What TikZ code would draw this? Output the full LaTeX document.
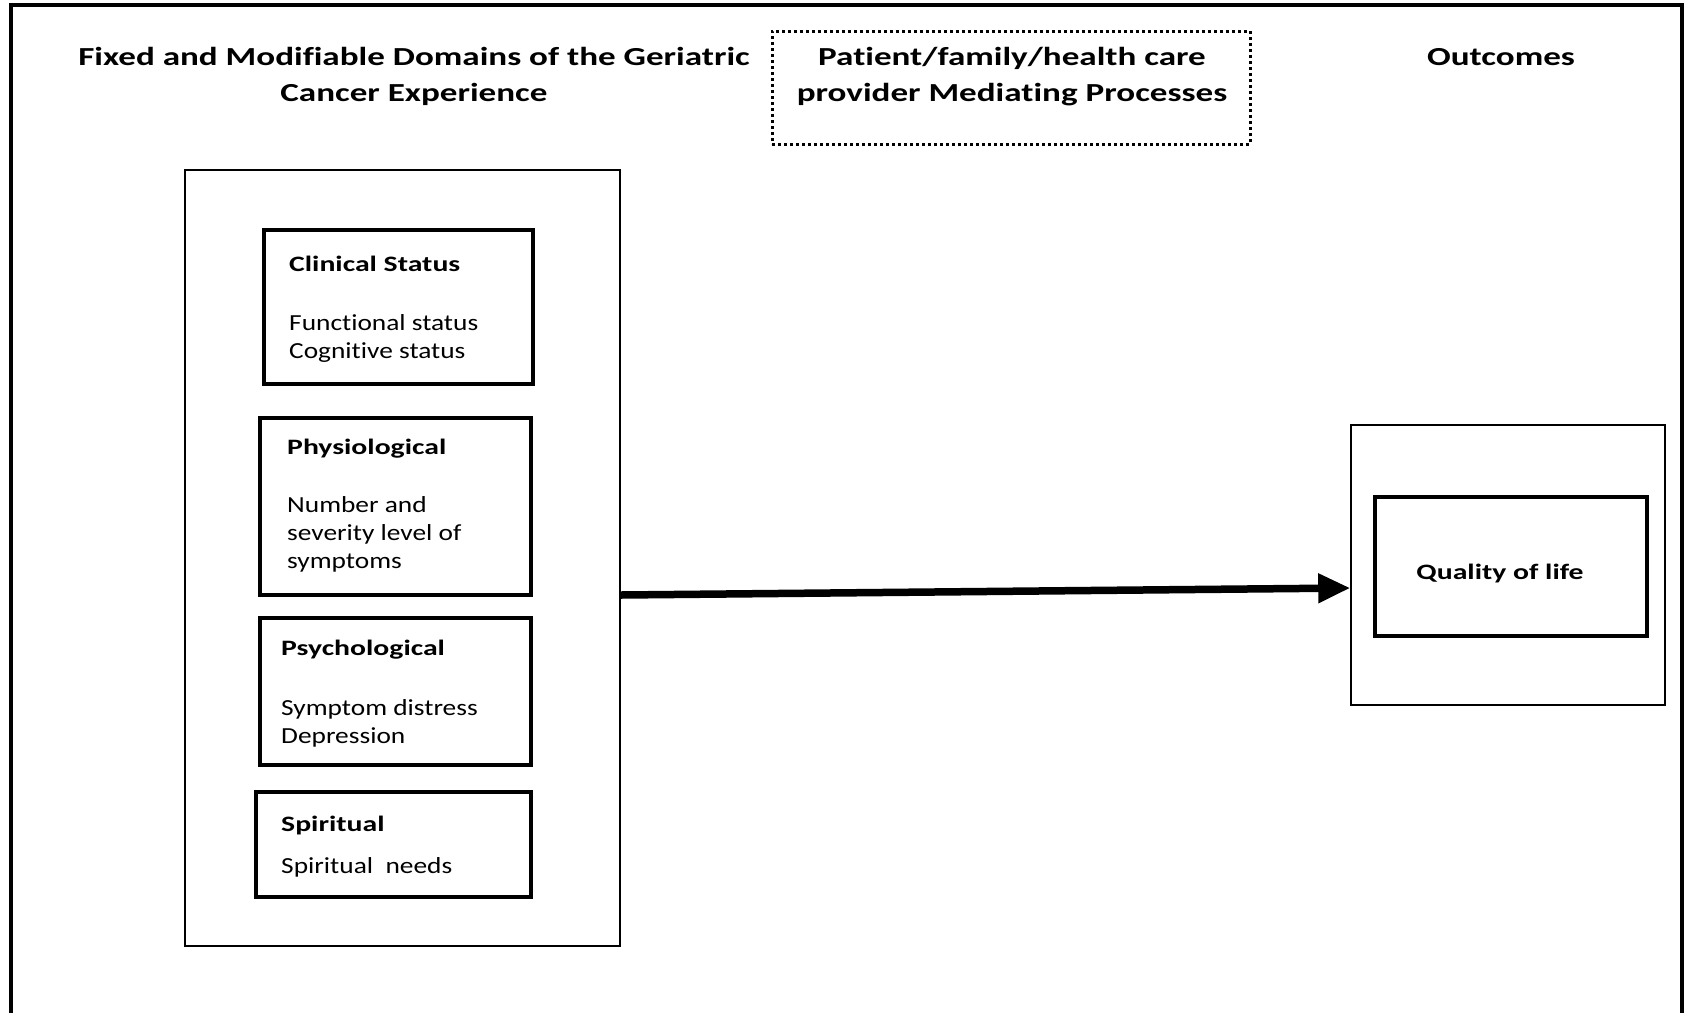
\documentclass[tikz,border=0pt]{standalone}
\usepackage{fontspec}
\setmainfont{Carlito}[Ligatures=NoCommon, FakeStretch=1.19, BoldFeatures={FakeStretch=1.35}]
\usetikzlibrary{arrows.meta}
\begin{document}
\begin{tikzpicture}[x=1pt,y=-1pt,
  frameline/.style={line width=4.5pt},
  panel/.style={draw, line width=1.5pt, inner sep=0pt},
  domainbox/.style={draw, line width=4.5pt, inner sep=0pt},
  medbox/.style={draw, line width=3pt, dash pattern=on 3pt off 3pt, inner sep=0pt},
  heading/.style={font=\fontsize{26}{32}\selectfont\bfseries, anchor=base, inner sep=0pt},
  boxtitle/.style={font=\fontsize{22}{27}\selectfont\bfseries, anchor=base west, inner sep=0pt},
  boxtext/.style={font=\fontsize{23}{28}\selectfont, anchor=base west, inner sep=0pt},
  flow/.style={line width=7.5pt, -{Triangle[length=32pt, width=28pt]}}
]
\useasboundingbox (0,0) rectangle (1692,1013);
\fill[white] (0,0) rectangle (1692,1013);

% outer frame (open at the bottom)
\draw[frameline] (11,1013) -- (11,5) -- (1682,5) -- (1682,1013);

% column headings
\node[heading] (h1a) at (414,65) {Fixed and Modifiable Domains of the Geriatric};
\node[heading] (h1b) at (414,101) {Cancer Experience};
\node[medbox, minimum width=478pt, minimum height=113pt] (med) at (1011,87.5) {};
\node[heading] (h2a) at (1012,65) {Patient/family/health care};
\node[heading] (h2b) at (1012,101) {provider Mediating Processes};
\node[heading] (h3) at (1501,65) {Outcomes};

% domains panel
\node[panel, minimum width=435pt, minimum height=776pt] (dom) at (402.5,558) {};

\node[domainbox, minimum width=269pt, minimum height=154pt] (clin) at (398.5,307) {};
\node[boxtitle] (clinT) at (289,271) {Clinical Status};
\node[boxtext] (clin1) at (289,330) {Functional status};
\node[boxtext] (clin2) at (289,358) {Cognitive status};

\node[domainbox, minimum width=271pt, minimum height=177pt] (phys) at (395.5,506.5) {};
\node[boxtitle] (physT) at (287,454) {Physiological};
\node[boxtext] (phys1) at (287,512) {Number and};
\node[boxtext] (phys2) at (287,540) {severity level of};
\node[boxtext] (phys3) at (287,568) {symptoms};

\node[domainbox, minimum width=271pt, minimum height=147pt] (psy) at (395.5,691.5) {};
\node[boxtitle] (psyT) at (281,655) {Psychological};
\node[boxtext] (psy1) at (281,715) {Symptom distress};
\node[boxtext] (psy2) at (281,743) {Depression};

\node[domainbox, minimum width=275pt, minimum height=105pt] (spir) at (393.5,844.5) {};
\node[boxtitle] (spirT) at (281,831) {Spiritual};
\node[boxtext] (spir1) at (281,873) {Spiritual\ \ needs};

% outcomes panel
\node[panel, minimum width=314pt, minimum height=280pt] (out) at (1508,565) {};
\node[domainbox, minimum width=272pt, minimum height=139pt] (qol) at (1511,566.5) {};
\node[boxtitle, anchor=base] (qolT) at (1500,579) {Quality of life};

% main path from domains to outcomes
\coordinate (src) at (dom.east |- 0,595);
\coordinate (dst) at (out.west |- 0,588);
\draw[flow] (src) -- (dst);
\end{tikzpicture}
\end{document}
